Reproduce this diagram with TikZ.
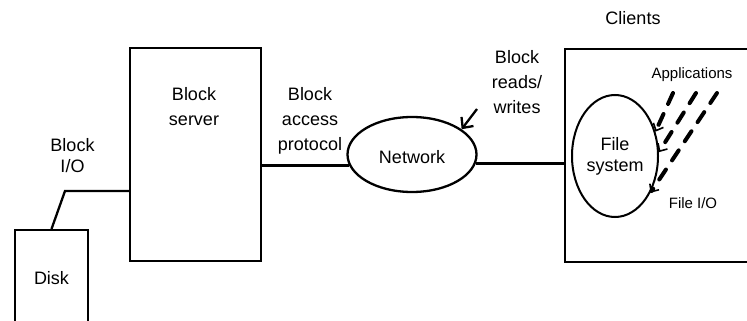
\documentclass[tikz,border=0pt]{standalone}
\usepackage{fontspec}
\setmainfont{Liberation Sans}
\usetikzlibrary{arrows.meta,shapes.geometric}
\begin{document}
\begin{tikzpicture}[x=1pt,y=-1pt,
  box/.style={draw, line width=2.3pt, rectangle, inner sep=0pt},
  wide/.style={font=\fontsize{18}{25}\selectfont},
  tight/.style={font=\fontsize{18}{21}\selectfont},
  small/.style={font=\fontsize{15}{18}\selectfont, inner sep=0pt, anchor=base},
  lbl/.style={align=center, inner sep=0pt, anchor=north},
  wire/.style={line width=2.3pt},
  app/.style={line width=4pt, line cap=round, dash pattern=on 12pt off 11pt,
    -{Straight Barb[length=6pt,width=11pt,line width=1.6pt]}}
]
\useasboundingbox (0,0) rectangle (747,321);
\clip (0,0) rectangle (747,321);

% boxes
\node[box, minimum width=131pt, minimum height=213pt] (srv) at (195.5,154.5) {};
\node[box, wide, minimum width=73pt, minimum height=95pt, anchor=north] (disk) at (51.5,229) {Disk};
\node[box, minimum width=240pt, minimum height=213pt, anchor=north west] (cli) at (564,48) {};

% network
\node[draw, ellipse, line width=2.3pt, minimum width=129pt, minimum height=75pt,
      inner sep=0pt, text height=19pt, wide] (net) at (412,154.5) {Network};

% file system
\node[draw, ellipse, line width=2pt, minimum width=86pt, minimum height=122pt,
      inner sep=0pt, tight, align=center] (fs) at (615,156) {File\\system};

% labels
\node[lbl, wide] (srvlbl) at (194,87) {Block\\server};
\node[lbl, tight] (biolbl) at (72.5,138) {Block\\I/O};
\node[lbl, wide] (baplbl) at (310,87) {Block\\access\\protocol};
\node[lbl, wide] (rwlbl) at (517,50) {Block\\reads/\\writes};
\node[wide, inner sep=0pt, anchor=base] (clilbl) at (633,25) {Clients};
\node[small] (applbl) at (692,78) {Applications};
\node[small] (fiolbl) at (693,208) {File I/O};

% connectors
\coordinate (iobend) at (65,191);
\draw[wire] (disk.north) -- (iobend) -- (iobend -| srv.west);
\draw[wire] (net.190) -- (net.190 -| srv.east);
\draw[wire] (net.-8) -- (net.-8 -| cli.west);

\coordinate (rwtail) at (477,109);
\draw[wire, -{Straight Barb[length=8pt,width=15pt]}] (rwtail) -- (net.27);

% application file I/O
\coordinate (appA) at (673,93);
\coordinate (appB) at (696,93);
\coordinate (appC) at (717,93);
\draw[app] (appA) -- (fs.31);
\draw[app] (appB) -- (fs.5);
\draw[app] (appC) -- (fs.-46);
\end{tikzpicture}
\end{document}
